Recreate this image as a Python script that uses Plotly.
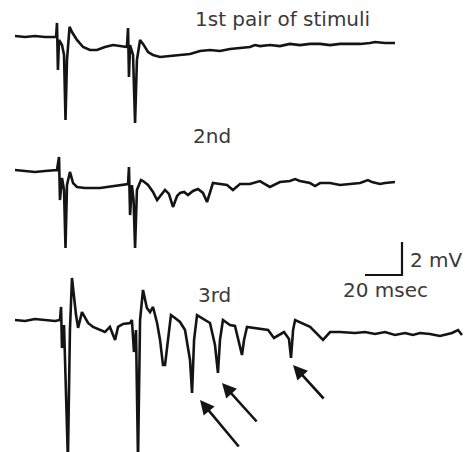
import plotly.graph_objects as go

# ---- data (time in ms, voltage in mV relative to each trace's baseline) ----
t1 = [0, 5.4, 10.8, 16.2, 22.2, 22.7, 23.2, 23.8, 25.4, 26.5, 27.3, 28.1, 29.5, 30.8, 33.5,
      36.8, 40.5, 44.3, 48.6, 53.0, 56.8, 60.5, 61.1, 61.6, 62.2, 63.8, 64.9, 65.9, 67.6, 69.2,
      71.9, 74.6, 78.4, 83.8, 89.2, 94.6, 100.0, 105.4, 110.8, 116.2, 121.6, 127.0, 129.7,
      132.4, 137.8, 143.2, 148.6, 154.0, 159.5, 164.9, 170.3, 175.7, 181.1, 186.5, 191.9,
      194.6, 200.0, 205.4]
v1 = [0, -0.06, 0, -0.06, -0.06, 0.79, -2.06, -0.24, -0.55, -1.15, -5.09, -1.45, 0.55, 0.24,
      -0.24, -0.67, -0.85, -0.85, -0.67, -0.55, -0.61, -0.67, 0.48, -2.48, -0.55, -1.15, -5.27,
      -1.45, -0.24, -0.48, -0.97, -1.15, -1.27, -1.21, -1.15, -1.09, -0.91, -0.85, -0.91, -0.79,
      -0.73, -0.67, -0.55, -0.61, -0.55, -0.61, -0.48, -0.55, -0.48, -0.48, -0.55, -0.48,
      -0.48, -0.48, -0.42, -0.36, -0.42, -0.42]

t2 = [0, 5.4, 10.8, 16.2, 22.7, 23.8, 24.3, 25.4, 26.5, 27.3, 28.1, 29.7, 31.4, 33.5, 37.8,
      45.9, 54.1, 61.1, 61.6, 62.2, 63.2, 64.1, 64.9, 65.9, 68.1, 69.2, 71.9, 74.6, 76.8, 79.0,
      81.1, 83.2, 85.4, 87.6, 89.2, 91.4, 93.5, 96.2, 98.9, 101.6, 103.8, 107.0, 110.8, 114.6,
      117.8, 121.6, 127.0, 132.4, 135.1, 137.8, 143.2, 148.6, 151.4, 154.0, 159.5, 162.2,
      164.9, 170.3, 175.7, 181.1, 186.5, 190.8, 193.0, 197.3, 200.0, 205.4]
v2 = [0, -0.06, -0.12, -0.06, 0, 0.79, -1.82, -0.48, -1.21, -4.73, -0.91, -0.12, -0.79, -1.03,
      -1.09, -1.09, -0.97, -0.85, 0.18, -2.73, -0.91, -1.82, -4.73, -1.21, -0.61, -0.67, -0.91,
      -1.33, -1.82, -1.52, -1.21, -1.45, -2.24, -1.58, -1.39, -1.33, -1.52, -1.27, -1.15, -1.39,
      -1.94, -0.79, -0.85, -0.91, -1.21, -0.85, -0.85, -0.67, -0.85, -1.03, -0.73, -0.67, -0.55,
      -0.67, -0.79, -0.97, -0.79, -0.79, -0.91, -0.85, -0.79, -0.61, -0.73, -0.85, -0.79, -0.73]

t3 = [0, 5.4, 10.8, 16.2, 21.6, 24.3, 24.9, 25.4, 26.5, 28.6, 29.7, 30.8, 31.9, 33.0, 34.1,
      36.2, 39.5, 42.2, 48.6, 51.3, 53.0, 54.1, 55.7, 58.4, 62.2, 63.2, 64.3, 65.4, 66.5, 67.6,
      69.2, 71.3, 73.0, 74.6, 76.8, 78.4, 80.0, 81.1, 82.7, 84.3, 86.5, 89.2, 91.9, 94.6, 95.7,
      96.8, 98.4, 101.1, 105.4, 108.1, 109.7, 110.8, 112.4, 116.2, 118.9, 122.7, 123.8, 125.4,
      129.7, 136.8, 140.0, 145.4, 148.1, 149.2, 150.3, 151.4, 159.5, 166.5, 170.3, 175.7,
      183.8, 189.2, 194.6, 200.0, 205.4, 210.8, 215.1, 218.9, 224.3, 229.7, 234.1, 236.2, 239.5,
      241.6]
v3 = [0, -0.06, 0.06, 0, -0.06, 0, 0.79, -1.70, -0.30, -8.5, -0.61, 2.55, 1.21, 0.30, -0.48,
      0.48, -0.18, -0.42, -0.73, -0.42, -0.91, -1.21, -0.42, -0.24, -0.18, 0, -1.94, -0.61, -8.5,
      0, 1.82, 0.73, 0.48, 0.79, -0.18, -1.21, -2.73, -2.73, -1.21, 0.30, 0.12, -0.12, -0.61,
      -2.42, -4.42, -1.21, 0.30, 0.12, -0.18, -1.52, -3.21, -1.21, 0, -0.30, -0.36, -2.12, -1.21,
      -0.42, -0.48, -0.61, -1.09, -0.73, -1.15, -2.30, -0.61, 0, -0.42, -1.21, -0.73, -0.73,
      -0.79, -0.73, -0.85, -0.73, -0.91, -0.79, -0.91, -0.79, -0.85, -0.97, -0.85, -0.79, -0.61,
      -0.91, -0.91]

trace_names = ["1st pair of stimuli", "2nd", "3rd"]
scale_ms = 20
scale_mv = 2

# ---- layout constants ----
W, H = 465, 452
MS_PX = 20 / 37      # ms per pixel
MV_PX = 2 / 33       # mV per pixel
offsets = [-36 * MV_PX, -170 * MV_PX, -320 * MV_PX]
LINE = "#141414"
TXT = "#3a3a3a"
FONT = "DejaVu Sans"

fig = go.Figure()
for (t, v), off in zip([(t1, v1), (t2, v2), (t3, v3)], offsets):
    fig.add_trace(go.Scatter(x=t, y=[y + off for y in v], mode="lines",
                             line=dict(color=LINE, width=2.6), hoverinfo="skip",
                             showlegend=False))

# scale bar
corner_t = (402 - 15) * MS_PX
corner_v = -275 * MV_PX
fig.add_trace(go.Scatter(x=[corner_t - scale_ms, corner_t, corner_t],
                         y=[corner_v, corner_v, corner_v + scale_mv],
                         mode="lines", line=dict(color=LINE, width=2.2),
                         hoverinfo="skip", showlegend=False))

def px(x):
    return x / W

def py(y):
    return 1 - y / H

ann = [
    dict(text=trace_names[0], x=px(282), y=py(19), xanchor="center", yanchor="middle"),
    dict(text=trace_names[1], x=px(212), y=py(136), xanchor="center", yanchor="middle"),
    dict(text=trace_names[2], x=px(214), y=py(295), xanchor="center", yanchor="middle"),
    dict(text=f"{scale_mv} mV", x=px(408), y=py(260), xanchor="left", yanchor="middle"),
    dict(text=f"{scale_ms} msec", x=px(385), y=py(290), xanchor="center", yanchor="middle"),
]
for a in ann:
    fig.add_annotation(xref="paper", yref="paper", showarrow=False,
                       font=dict(family=FONT, size=20, color=TXT), **a)

# arrows (head position in paper coords, tail offsets in pixels)
for hx, hy, ax, ay in [(200, 400, 40, 48), (222, 383, 36, 40), (293, 365, 32, 35)]:
    fig.add_annotation(xref="paper", yref="paper", x=px(hx), y=py(hy), ax=ax, ay=ay,
                       text="", showarrow=True, arrowhead=2, arrowsize=1.1,
                       arrowwidth=2.6, arrowcolor=LINE)

fig.update_layout(
    width=W, height=H, margin=dict(l=0, r=0, t=0, b=0),
    paper_bgcolor="white", plot_bgcolor="white",
    xaxis=dict(range=[-15 * MS_PX, (W - 15) * MS_PX], visible=False, fixedrange=True),
    yaxis=dict(range=[-H * MV_PX, 0], visible=False, fixedrange=True),
)
fig.write_html("out.html")
